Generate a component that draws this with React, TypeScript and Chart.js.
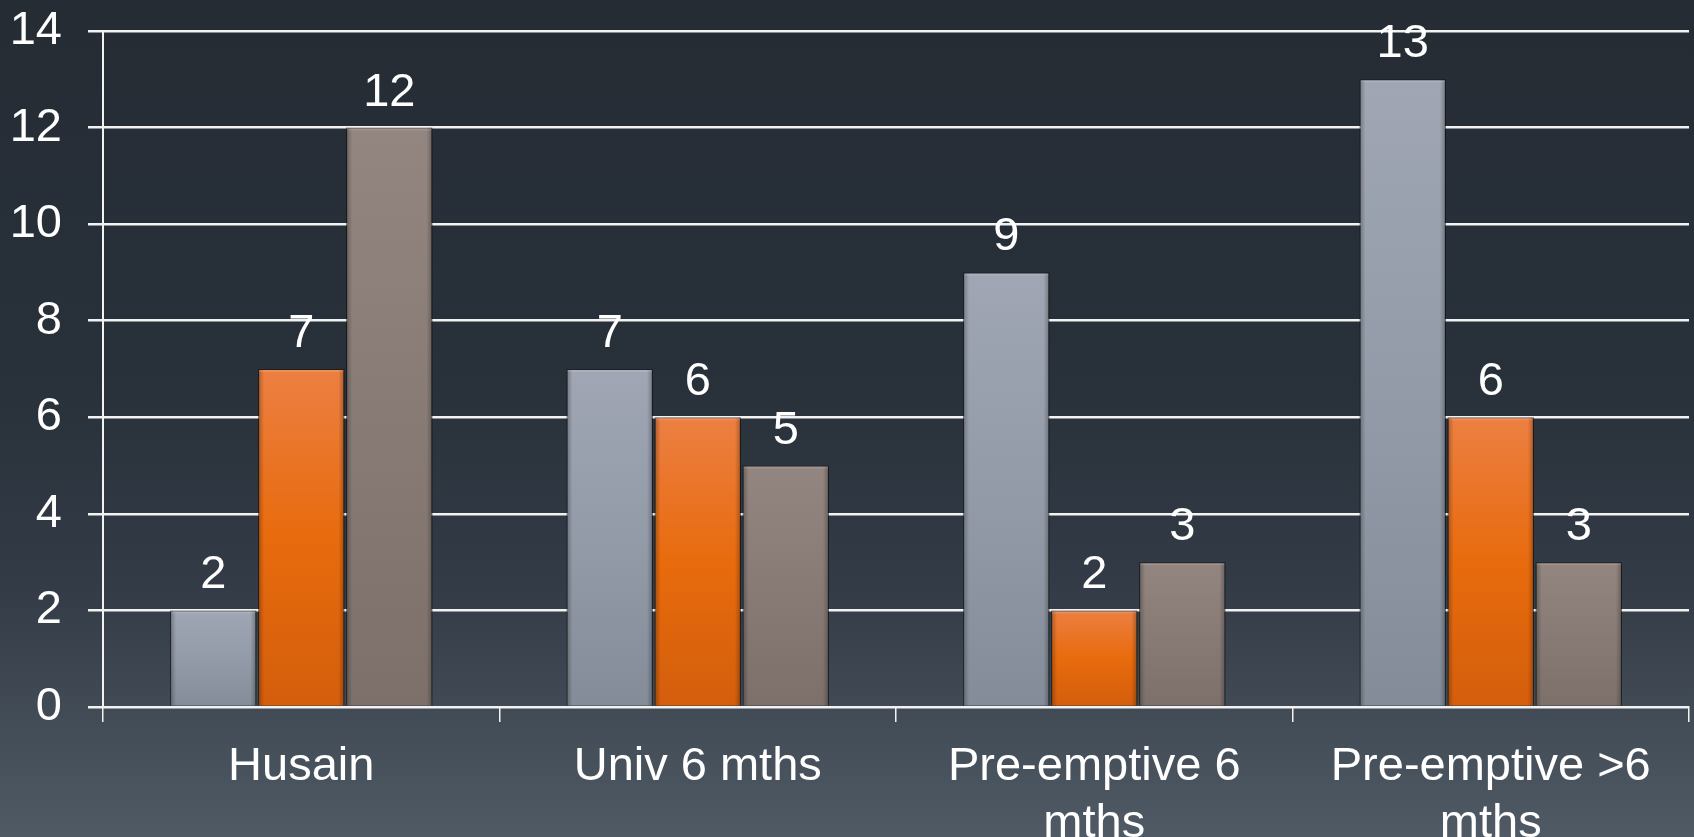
import React, { useEffect, useRef } from "react";
import { Chart, registerables } from "chart.js";

Chart.register(...registerables);

const categories: (string | string[])[] = [
  "Husain",
  "Univ 6 mths",
  ["Pre-emptive 6", "mths"],
  ["Pre-emptive >6", "mths"],
];
const seriesGrey = [2, 7, 9, 13];
const seriesOrange = [7, 6, 2, 6];
const seriesTaupe = [12, 5, 3, 3];
const yTicks = [0, 2, 4, 6, 8, 10, 12, 14];

const FONT = "'Liberation Sans', Arial, Helvetica, sans-serif";

// Vertical gradient for a single bar, from its top down to the zero line.
function barGradient(stops: [number, string][]) {
  return (ctx: any) => {
    const chart = ctx.chart;
    const area = chart.chartArea;
    if (!area || ctx.type !== "data") return stops[0][1];
    const y = chart.scales.y;
    const top = y.getPixelForValue(ctx.parsed?.y ?? 0);
    const base = y.getPixelForValue(0);
    if (!isFinite(top) || !isFinite(base) || base - top < 1) return stops[0][1];
    const g = chart.ctx.createLinearGradient(0, top, 0, base);
    stops.forEach(([o, c]) => g.addColorStop(o, c));
    return g;
  };
}

const backgroundPlugin = {
  id: "slideBackground",
  beforeDraw(chart: any) {
    const { ctx, width, height } = chart;
    const g = ctx.createLinearGradient(0, 0, 0, height);
    g.addColorStop(0, "#252c34");
    g.addColorStop(0.45, "#28303a");
    g.addColorStop(0.7, "#333c46");
    g.addColorStop(1, "#505a64");
    ctx.save();
    ctx.fillStyle = g;
    ctx.fillRect(0, 0, width, height);
    ctx.restore();
  },
};

const barShadowPlugin = {
  id: "barShadow",
  beforeDatasetDraw(chart: any) {
    const ctx = chart.ctx;
    ctx.save();
    ctx.shadowColor = "rgba(0,0,0,0.6)";
    ctx.shadowBlur = 7;
    ctx.shadowOffsetX = 1;
    ctx.shadowOffsetY = 0;
  },
  afterDatasetDraw(chart: any) {
    chart.ctx.restore();
  },
};

// Soft darker shading along the left and right edges of every bar.
const barEdgePlugin = {
  id: "barEdges",
  afterDatasetsDraw(chart: any) {
    const ctx = chart.ctx;
    ctx.save();
    chart.data.datasets.forEach((_: any, i: number) => {
      const meta = chart.getDatasetMeta(i);
      meta.data.forEach((el: any) => {
        const { x, y, base, width } = el.getProps(["x", "y", "base", "width"], true);
        const left = x - width / 2;
        const right = x + width / 2;
        const h = base - y;
        if (h <= 0) return;
        const gl = ctx.createLinearGradient(left, 0, left + 6, 0);
        gl.addColorStop(0, "rgba(0,0,0,0.28)");
        gl.addColorStop(1, "rgba(0,0,0,0)");
        ctx.fillStyle = gl;
        ctx.fillRect(left, y, 6, h);
        const gr = ctx.createLinearGradient(right - 6, 0, right, 0);
        gr.addColorStop(0, "rgba(0,0,0,0)");
        gr.addColorStop(1, "rgba(0,0,0,0.28)");
        ctx.fillStyle = gr;
        ctx.fillRect(right - 6, y, 6, h);
        ctx.fillStyle = "rgba(255,255,255,0.12)";
        ctx.fillRect(left + 1, y + 1, width - 2, 2);
      });
    });
    ctx.restore();
  },
};

const valueLabelPlugin = {
  id: "valueLabels",
  afterDatasetsDraw(chart: any) {
    const ctx = chart.ctx;
    ctx.save();
    ctx.font = `47px ${FONT}`;
    ctx.fillStyle = "#ffffff";
    ctx.textAlign = "center";
    ctx.textBaseline = "middle";
    chart.data.datasets.forEach((ds: any, i: number) => {
      const meta = chart.getDatasetMeta(i);
      meta.data.forEach((el: any, j: number) => {
        ctx.fillText(String(ds.data[j]), el.x, el.y - 35);
      });
    });
    ctx.restore();
  },
};

export default function App() {
  const canvasRef = useRef<HTMLCanvasElement | null>(null);

  useEffect(() => {
    if (!canvasRef.current) return;
    const chart = new Chart(canvasRef.current, {
      type: "bar",
      data: {
        labels: categories,
        datasets: [
          {
            label: "Series 1",
            data: seriesGrey,
            backgroundColor: barGradient([
              [0, "#a0a6b3"],
              [0.5, "#939ba8"],
              [1, "#838c98"],
            ]),
            borderColor: "rgba(40,45,55,0.35)",
            borderWidth: 1,
          },
          {
            label: "Series 2",
            data: seriesOrange,
            backgroundColor: barGradient([
              [0, "#ec7f42"],
              [0.5, "#e86b0d"],
              [1, "#d35e0c"],
            ]),
            borderColor: "rgba(60,30,10,0.35)",
            borderWidth: 1,
          },
          {
            label: "Series 3",
            data: seriesTaupe,
            backgroundColor: barGradient([
              [0, "#93857f"],
              [0.5, "#887b76"],
              [1, "#7d706a"],
            ]),
            borderColor: "rgba(40,30,25,0.35)",
            borderWidth: 1,
          },
        ],
      },
      options: {
        animation: false,
        responsive: false,
        maintainAspectRatio: false,
        layout: { padding: { top: 31, right: 5, left: 0, bottom: 0 } },
        plugins: {
          legend: { display: false },
          tooltip: { enabled: false },
          title: { display: false },
        },
        datasets: {
          bar: { categoryPercentage: 0.666, barPercentage: 0.98 },
        },
        scales: {
          x: {
            grid: {
              offset: true,
              drawOnChartArea: false,
              drawTicks: true,
              tickLength: 15,
              color: "#f2f2f2",
              lineWidth: 1.5,
            },
            border: { display: true, color: "#f2f2f2", width: 2 },
            ticks: {
              color: "#ffffff",
              font: { family: FONT, size: 47, lineHeight: 1.2 },
              padding: 17,
              maxRotation: 0,
              autoSkip: false,
            },
            afterFit(scale: any) {
              scale.height = 130;
            },
          },
          y: {
            min: 0,
            max: 14,
            afterBuildTicks(scale: any) {
              scale.ticks = yTicks.map((v) => ({ value: v }));
            },
            grid: {
              color: "#f2f2f2",
              lineWidth: 2.5,
              drawTicks: true,
              tickLength: 15,
            },
            border: { display: true, color: "#f2f2f2", width: 2 },
            ticks: {
              color: "#ffffff",
              font: { family: FONT, size: 47 },
              padding: 26,
            },
            afterFit(scale: any) {
              scale.width = 103;
              scale.paddingTop = 0;
              scale.paddingBottom = 0;
            },
          },
        },
      },
      plugins: [backgroundPlugin, barShadowPlugin, barEdgePlugin, valueLabelPlugin],
    });
    return () => chart.destroy();
  }, []);

  return (
    <div
      style={{
        position: "fixed",
        left: 0,
        top: 0,
        width: 1694,
        height: 837,
        overflow: "hidden",
      }}
    >
      <canvas ref={canvasRef} width={1694} height={837} style={{ display: "block" }} />
    </div>
  );
}
